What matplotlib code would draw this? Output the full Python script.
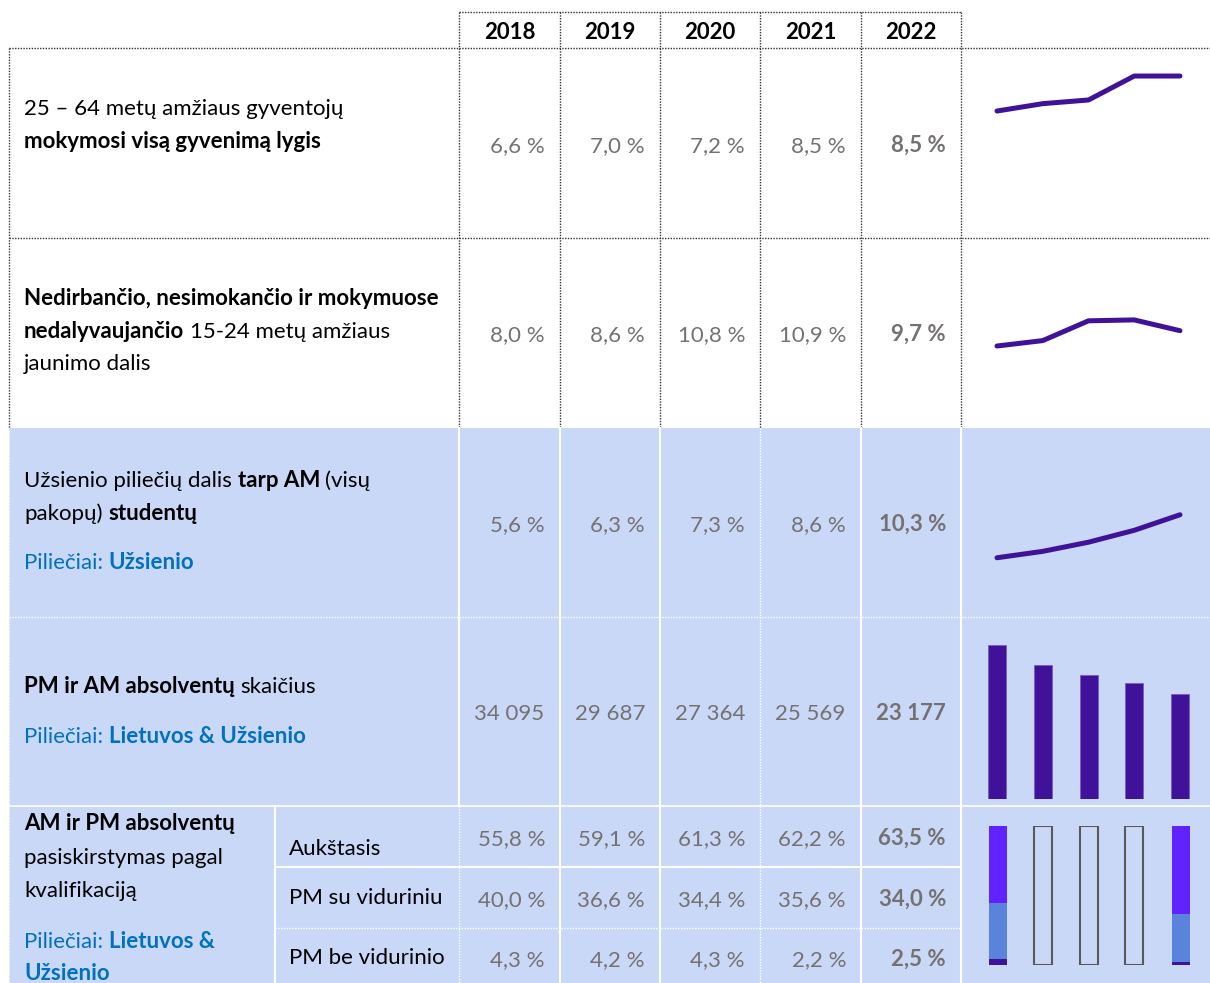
import matplotlib
matplotlib.use("Agg")
import matplotlib.pyplot as plt

# ---------------- data ----------------
years = ["2018", "2019", "2020", "2021", "2022"]
lifelong_learning = [6.6, 7.0, 7.2, 8.5, 8.5]
neet_youth = [8.0, 8.6, 10.8, 10.9, 9.7]
foreign_students = [5.6, 6.3, 7.3, 8.6, 10.3]
graduates = [34095, 29687, 27364, 25569, 23177]
qual_names = ["Aukštasis", "PM su viduriniu", "PM be vidurinio"]
qual_higher = [55.8, 59.1, 61.3, 62.2, 63.5]
qual_pm_sec = [40.0, 36.6, 34.4, 35.6, 34.0]
qual_pm_nosec = [4.3, 4.2, 4.3, 2.2, 2.5]
qual_filled = [True, False, False, False, True]

# ---------------- style ----------------
W, H, DPI = 1210, 983, 100
FONT = ["Lato", "DejaVu Sans"]
FS = 16
BLUE_BG = "#C9D8F7"
LINE_C = "#3F1299"
GRAY_NUM = "#767171"
BLUE_TXT = "#0070C0"
DOT = (0, (1, 1))
C_VIOLET = "#6023FF"
C_MID = "#5A84DB"
C_DARK = "#3F1299"

fig = plt.figure(figsize=(W / DPI, H / DPI), dpi=DPI)
fig.patch.set_facecolor("white")
ax = fig.add_axes([0, 0, 1, 1])
ax.set_xlim(0, W)
ax.set_ylim(H, 0)
ax.axis("off")
renderer = fig.canvas.get_renderer()

# background
ax.add_patch(plt.Rectangle((9, 428), W - 9, H - 428, color=BLUE_BG, zorder=0, lw=0))

def hline(y, x0, x1, color, ls, lw=0.8):
    ax.plot([x0, x1], [y, y], color=color, ls=ls, lw=lw, zorder=1)

def vline(x, y0, y1, color, ls, lw=0.8):
    ax.plot([x, x], [y0, y1], color=color, ls=ls, lw=lw, zorder=1)

col_edges = [459, 560, 660, 760, 861, 961]
dk = "#333333"
hline(12, 459, 961, dk, DOT, 1.0)
hline(48, 9, W, dk, DOT, 1.0)
hline(238, 9, W, dk, DOT, 1.0)
vline(9, 48, 428, dk, DOT, 1.0)
for xe in col_edges:
    vline(xe, 12, 428, dk, DOT, 1.0)

hline(617, 9, W, "white", DOT, 1.0)
hline(806, 9, W, "white", "-", 1.2)
vline(9, 428, H, "white", DOT, 0.8)
vline(459, 428, 806, "white", "-", 1.5)
vline(459, 806, H, "white", DOT, 1.0)
for xe, ls in zip([560, 660, 760, 861, 961], ["-", "-", DOT, "-", "-"]):
    vline(xe, 428, H, "white", ls, 1.5 if ls == "-" else 1.0)
vline(275, 806, H, "white", "-", 1.5)
hline(867, 275, 961, "white", "-", 1.5)
hline(928, 275, 961, "white", DOT, 1.0)

def width_of(s, weight):
    t = ax.text(0, 0, s, fontsize=FS, fontweight=weight, family=FONT)
    w = t.get_window_extent(renderer).width
    t.remove()
    return w

SPACE = {wt: width_of("n n", wt) - width_of("nn", wt) for wt in ("normal", "bold")}

def rich(x, y, runs, color="black"):
    for i, (s, bold) in enumerate(runs):
        wt = "bold" if bold else "normal"
        t = ax.text(x, y, s, fontsize=FS, fontweight=wt, color=color,
                    family=FONT, va="baseline", ha="left", zorder=3)
        x += t.get_window_extent(renderer).width + SPACE[wt]

LX = 24
# row labels
rich(LX, 115, [("25 – 64 metų amžiaus gyventojų", False)])
rich(LX, 148, [("mokymosi visą gyvenimą lygis", True)])

rich(LX, 305, [("Nedirbančio, nesimokančio ir mokymuose", True)])
rich(LX, 338, [("nedalyvaujančio", True), ("15-24 metų amžiaus", False)])
rich(LX, 370, [("jaunimo dalis", False)])

rich(LX, 487, [("Užsienio piliečių dalis", False), ("tarp AM", True), ("(visų", False)])
rich(LX, 520, [("pakopų)", False), ("studentų", True)])
rich(LX, 569, [("Piliečiai:", False), ("Užsienio", True)], color=BLUE_TXT)

rich(LX, 693, [("PM ir AM absolventų", True), ("skaičius", False)])
rich(LX, 743, [("Piliečiai:", False), ("Lietuvos & Užsienio", True)], color=BLUE_TXT)

rich(LX, 830, [("AM ir PM absolventų", True)])
rich(LX, 864, [("pasiskirstymas pagal", False)])
rich(LX, 897, [("kvalifikaciją", False)])
rich(LX, 948, [("Piliečiai:", False), ("Lietuvos &", True)], color=BLUE_TXT)
rich(LX, 980, [("Užsienio", True)], color=BLUE_TXT)

for name, yb in zip(qual_names, [855, 904, 964]):
    rich(289, yb, [(name, False)])

# headers
for i, yr in enumerate(years):
    cx = (col_edges[i] + col_edges[i + 1]) / 2
    ax.text(cx, 39, yr, fontsize=FS, fontweight="bold", family=FONT,
            ha="center", va="baseline", zorder=3)

def pct(v):
    return f"{v:.1f}".replace(".", ",") + " %"

def num(v):
    return f"{v:,}".replace(",", " ")

def put_row(values, yb, fmt, align="right"):
    for i, v in enumerate(values):
        last = i == len(values) - 1
        if align == "right":
            x = col_edges[i + 1] - 15
        else:
            x = (col_edges[i] + col_edges[i + 1]) / 2
        ax.text(x, yb, fmt(v), fontsize=FS, family=FONT, color=GRAY_NUM,
                fontweight="bold" if last else "normal",
                ha=align, va="baseline", zorder=3)

put_row(lifelong_learning, 152, pct)
put_row(neet_youth, 341, pct)
put_row(foreign_students, 531, pct)
put_row(graduates, 720, num, align="center")
put_row(qual_higher, 845, pct)
put_row(qual_pm_sec, 906, pct)
put_row(qual_pm_nosec, 966, pct)

# ---------------- sparklines ----------------
XL = (-(997 - 961) / 45.75, (1210 - 997) / 45.75)

def spark_ax(top, height):
    a = fig.add_axes([961 / W, 1 - (top + height) / H, 249 / W, height / H])
    a.set_xlim(*XL)
    a.axis("off")
    a.patch.set_alpha(0)
    return a

xs = list(range(len(years)))

a1 = spark_ax(48.4, 184.2)
a1.set_ylim(0, 10)
a1.plot(xs, lifelong_learning, color=LINE_C, lw=3.6, solid_capstyle="round",
        solid_joinstyle="round")

a2 = spark_ax(238, 180)
a2.set_ylim(0, 20)
a2.plot(xs, neet_youth, color=LINE_C, lw=3.6, solid_capstyle="round",
        solid_joinstyle="round")

a3 = spark_ax(426, 183)
a3.set_ylim(0, 20)
a3.plot(xs, foreign_students, color=LINE_C, lw=3.6, solid_capstyle="round",
        solid_joinstyle="round")

BW = 18 / 45.75
a4 = spark_ax(618, 181)
a4.set_ylim(0, 40000)
a4.bar(xs, graduates, width=BW, color=C_DARK, edgecolor="#7A5BC4", lw=0.6)

a5 = spark_ax(826, 139)
a5.set_ylim(0, 100)
for i in xs:
    if qual_filled[i]:
        b0 = 0
        for vals, c in [(qual_pm_nosec, C_DARK), (qual_pm_sec, C_MID), (qual_higher, C_VIOLET)]:
            a5.bar(i + 0.03, vals[i], bottom=b0, width=BW, color=c, lw=0)
            b0 += vals[i]
    else:
        tot = qual_pm_nosec[i] + qual_pm_sec[i] + qual_higher[i]
        a5.bar(i, tot, width=BW, facecolor="none", edgecolor="#595959", lw=1.5)

fig.savefig("out.png", dpi=DPI)
